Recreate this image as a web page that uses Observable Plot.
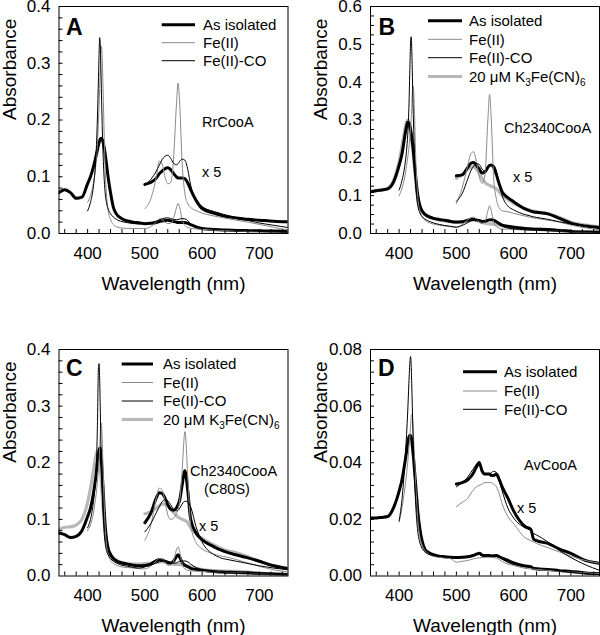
<!DOCTYPE html>
<html><head><meta charset="utf-8">
<script src="https://cdn.jsdelivr.net/npm/d3@7"></script>
<script src="https://cdn.jsdelivr.net/npm/@observablehq/plot@0.6"></script>
<style>
body{margin:0;background:#fff;}
#root{position:relative;width:600px;height:635px;font-family:"Liberation Sans",Arial,sans-serif;background:#fff;overflow:hidden;}
.panel{position:absolute;}
</style></head><body><div id="root"></div>
<script>
// Shared wavelength grid (nm)
const wavelength = [350,360,370,380,390,400,405,410,413,415,417,419,420,421,422,423,424,425,427,429,431,433,436,440,445,450,460,470,480,490,500,510,520,525,530,535,540,545,550,555,558,561,565,570,575,580,590,600,620,630,635,640,660,680,700,725,750];
const xTickLabels = [400,500,600,700];
const expandFrom = 500;   // the "x 5" traces start here
const expandFactor = 5;

// Panel A: RrCooA
const isoA = [.072,.077,.072,.062,.064,.088,.100,.117,.129,.138,.147,.156,.160,.163,.166,.167,.168,.167,.161,.151,.138,.122,.098,.072,.046,.035,.026,.022,.020,.019,.0173,.0180,.0195,.0210,.0220,.0228,.0232,.0225,.0212,.0200,.0196,.0196,.0196,.0193,.0178,.0155,.0115,.0088,.0072,.0066,.0063,.0061,.0055,.0050,.0047,.0043,.0041];
const fe2A = [null,null,null,null,null,.055,.067,.088,.108,.128,.158,.200,.225,.255,.290,.318,.330,.322,.255,.170,.105,.068,.040,.025,.016,.012,.0095,.0090,.0088,.0088,.0088,.0120,.0200,.0255,.0245,.0200,.0175,.0180,.0260,.0450,.0530,.0450,.0250,.0140,.0105,.0092,.0080,.0072,.0062,.0058,.0056,.0054,.0047,.0040,.0032,.0022,.0012];
const coA = [null,null,null,null,null,.040,.055,.082,.112,.145,.200,.275,.315,.345,.335,.300,.255,.210,.140,.095,.068,.054,.043,.035,.029,.025,.021,.019,.0175,.0168,.0170,.0190,.0220,.0240,.0260,.0272,.0276,.0265,.0248,.0242,.0246,.0255,.0262,.0258,.0225,.0170,.0115,.0095,.0078,.0072,.0069,.0066,.0056,.0046,.0037,.0029,.0021];

// Panel B: Ch2340CooA
const isoB = [.110,.113,.115,.118,.135,.180,.210,.258,.283,.294,.292,.283,.275,.265,.255,.243,.230,.215,.183,.150,.120,.097,.075,.060,.051,.046,.040,.037,.035,.032,.0305,.0310,.0350,.0370,.0375,.0360,.0340,.0320,.0325,.0350,.0360,.0362,.0350,.0310,.0260,.0220,.0190,.0168,.0130,.0118,.0114,.0112,.0104,.0080,.0055,.0040,.0032];
const fe2B = [null,null,null,null,null,.100,.120,.150,.180,.200,.225,.260,.280,.300,.330,.370,.390,.385,.310,.200,.130,.088,.060,.045,.035,.030,.025,.022,.020,.018,.0158,.0240,.0360,.0420,.0432,.0380,.0300,.0265,.0310,.0600,.0735,.0600,.0300,.0180,.0135,.0120,.0115,.0107,.0092,.0085,.0082,.0080,.0070,.0060,.0045,.0030,.0020];
const coB = [null,null,null,null,null,.115,.140,.180,.220,.260,.330,.450,.505,.520,.490,.430,.360,.300,.200,.130,.090,.070,.055,.045,.038,.034,.028,.024,.021,.019,.0170,.0210,.0290,.0330,.0355,.0370,.0365,.0340,.0330,.0345,.0355,.0360,.0360,.0330,.0260,.0200,.0145,.0125,.0100,.0092,.0088,.0085,.0075,.0062,.0050,.0038,.0028];
const fcB = [.112,.114,.116,.120,.140,.190,.230,.275,.295,.300,.295,.280,.270,.260,.248,.235,.220,.205,.170,.140,.110,.090,.070,.058,.050,.045,.040,.036,.033,.031,.0292,.0310,.0340,.0350,.0352,.0340,.0320,.0290,.0270,.0258,.0255,.0250,.0245,.0235,.0220,.0200,.0180,.0160,.0132,.0122,.0118,.0115,.0105,.0085,.0060,.0045,.0036];

// Panel C: Ch2340CooA (C80S)
const isoC = [.076,.073,.068,.070,.080,.105,.120,.145,.165,.180,.200,.215,.222,.226,.225,.218,.205,.190,.155,.115,.085,.065,.048,.038,.031,.027,.023,.021,.019,.018,.0185,.0210,.0270,.0290,.0285,.0260,.0235,.0230,.0260,.0340,.0375,.0330,.0240,.0190,.0165,.0135,.0115,.0100,.0078,.0072,.0070,.0068,.0064,.0056,.0045,.0034,.0026];
const fe2C = [null,null,null,null,null,.080,.090,.110,.130,.145,.165,.190,.205,.225,.250,.268,.270,.255,.190,.125,.080,.055,.038,.028,.022,.019,.016,.015,.014,.013,.0125,.0170,.0270,.0310,.0305,.0250,.0190,.0190,.0260,.0460,.0515,.0420,.0220,.0125,.0100,.0090,.0085,.0080,.0070,.0065,.0063,.0062,.0055,.0045,.0035,.0025,.0018];
const coC = [null,null,null,null,null,.085,.100,.130,.160,.190,.260,.370,.375,.350,.300,.245,.200,.165,.110,.075,.055,.045,.037,.031,.026,.023,.019,.017,.015,.014,.0160,.0190,.0230,.0250,.0265,.0270,.0262,.0240,.0225,.0230,.0245,.0260,.0265,.0265,.0250,.0210,.0150,.0110,.0075,.0065,.0062,.0058,.0050,.0042,.0035,.0028,.0021];
const fcC = [.082,.086,.087,.090,.100,.130,.155,.185,.205,.215,.220,.215,.210,.200,.190,.180,.165,.150,.120,.095,.075,.060,.047,.038,.032,.028,.024,.022,.021,.021,.0220,.0225,.0240,.0250,.0255,.0250,.0235,.0220,.0210,.0205,.0205,.0202,.0198,.0185,.0170,.0155,.0130,.0115,.0095,.0090,.0088,.0086,.0080,.0068,.0050,.0035,.0025];
// Panel C "x 5" traces as drawn (values on the left axis, 500-750 nm of the grid)
const isoC5 = [.094,.110,.138,.147,.146,.138,.126,.118,.116,.120,.126,.135,.160,.186,.150,.100,.075,.064,.052,.047,.045,.043,.037,.032,.026,.018,.013];
const fe2C5 = [.063,.088,.138,.155,.152,.132,.108,.100,.102,.110,.118,.135,.185,.255,.175,.090,.058,.048,.039,.036,.035,.034,.029,.023,.017,.011,.007];
const coC5 = [.078,.092,.112,.122,.131,.135,.133,.126,.118,.115,.116,.120,.127,.132,.131,.122,.085,.060,.038,.033,.031,.030,.026,.022,.018,.014,.011];
const fcC5 = [.110,.113,.120,.124,.127,.127,.124,.118,.112,.107,.104,.102,.100,.098,.094,.085,.074,.066,.055,.050,.048,.046,.041,.034,.026,.018,.013];

// Panel D: AvCooA
const isoD = [.0205,.0205,.0207,.0210,.0240,.0300,.0340,.0400,.0440,.0470,.0490,.0497,.0495,.0490,.0480,.0460,.0440,.0420,.0370,.0320,.0270,.0220,.0170,.0125,.0095,.0085,.0075,.0070,.0068,.0066,.0065,.0066,.0068,.0070,.0073,.0077,.0080,.0074,.0072,.0072,.0072,.0071,.0071,.0072,.0068,.0063,.0055,.0046,.0035,.0033,.0026,.0025,.0023,.0019,.0016,.0011,.0009];
const fe2D = [null,null,null,null,null,.0190,.0240,.0310,.0360,.0400,.0450,.0500,.0530,.0560,.0570,.0565,.0540,.0500,.0410,.0320,.0250,.0190,.0140,.0110,.0090,.0080,.0070,.0066,.0063,.0061,.0049,.0052,.0055,.0058,.0061,.0063,.0064,.0065,.0066,.0066,.0066,.0066,.0065,.0063,.0058,.0051,.0042,.0037,.0027,.0025,.0024,.0023,.0020,.0017,.0014,.0011,.0009];
const coD = [null,null,null,null,null,.0195,.0270,.0400,.0500,.0580,.0680,.0760,.0775,.0750,.0680,.0600,.0520,.0450,.0340,.0250,.0190,.0150,.0120,.0098,.0085,.0078,.0072,.0069,.0067,.0066,.0063,.0066,.0070,.0073,.0076,.0079,.0081,.0074,.0072,.0072,.0072,.0073,.0074,.0073,.0067,.0060,.0048,.0041,.0034,.0032,.0030,.0029,.0024,.0018,.0013,.0008,.0004];

const seriesNames = ["As isolated","Fe(II)","Fe(II)-CO","20 \u03bcM K3Fe(CN)6"];
const styles = {
  "As isolated": {stroke:"#000", width:3, order:1},
  "Fe(II)": {stroke:"#8a8a8a", width:1, order:2},
  "Fe(II)-CO": {stroke:"#000", width:1, order:3},
  "20 \u03bcM K3Fe(CN)6": {stroke:"#b8b8b8", width:3.2, order:0}
};

const panels = [
  {letter:"A", left:0, top:0, w:300, h:310, mL:58.5, mR:12.5, mT:6, mB:77,
   yMax:0.4, yLabels:[0,0.1,0.2,0.3,0.4], yFmt:d3.format(".1f"), yStep:0.02,
   values:[isoA, fe2A, coA], letterPos:[66,35],
   legend:{x1:161.7,x2:195,tx:203,rows:[24.7,42.7,60.7]},
   notes:[["RrCooA",202,126.7],["x 5",202,177]]},
  {letter:"B", left:300, top:0, w:300, h:310, mL:70, mR:1, mT:6, mB:77,
   yMax:0.6, yLabels:[0,0.1,0.2,0.3,0.4,0.5,0.6], yFmt:d3.format(".1f"), yStep:0.025,
   values:[isoB, fe2B, coB, fcB], letterPos:[78.5,35],
   legend:{x1:128,x2:162,tx:169,rows:[20.7,39.3,57.7,76.5]},
   notes:[["Ch2340CooA",204,133],["x 5",213,182]]},
  {letter:"C", left:0, top:320, w:300, h:315, mL:58.5, mR:12.5, mT:29, mB:59.5,
   yMax:0.4, yLabels:[0,0.1,0.2,0.3,0.4], yFmt:d3.format(".1f"), yStep:0.02,
   values:[isoC, fe2C, coC, fcC], expanded:[isoC5, fe2C5, coC5, fcC5], letterPos:[66,56],
   legend:{x1:121.7,x2:153,tx:163,rows:[44,62.5,81,99.5]},
   notes:[["Ch2340CooA",190,155.5],["(C80S)",204,174],["x 5",199,211]]},
  {letter:"D", left:300, top:320, w:300, h:315, mL:70, mR:1, mT:29, mB:59.5,
   yMax:0.08, yLabels:[0,0.02,0.04,0.06,0.08], yFmt:d3.format(".2f"), yStep:0.004,
   values:[isoD, fe2D, coD], letterPos:[78,56],
   legend:{x1:163,x2:197,tx:204,rows:[51.7,71,89.3]},
   notes:[["AvCooA",224,149.5],["x 5",217,193]]}
];

const FONT = '"Liberation Sans", Arial, Helvetica, sans-serif';
const root = document.getElementById("root");
const expWl = wavelength.filter(w => w >= expandFrom);

for (const p of panels) {
  const innerW = p.w - p.mL - p.mR;
  const innerH = p.h - p.mT - p.mB;
  const series = p.values.map((vals, k) => {
    const name = seriesNames[k];
    const rows = [];
    wavelength.forEach((w, i) => { if (vals[i] != null) rows.push({wl: w, a: vals[i]}); });
    let exp;
    if (p.expanded) exp = expWl.map((w, i) => ({wl: w, a: p.expanded[k][i]}));
    else exp = rows.filter(d => d.wl >= expandFrom).map(d => ({wl: d.wl, a: d.a * expandFactor}));
    return {name, rows, exp, style: styles[name]};
  });
  const marks = [];
  const drawOrder = series.slice().sort((a, b) => a.style.order - b.style.order);
  for (const s of drawOrder) {
    const st = {stroke: s.style.stroke, strokeWidth: s.style.width, curve: "monotone-x", strokeLinejoin: "round", strokeLinecap: "round", clip: true};
    marks.push(Plot.line(s.rows, {x: "wl", y: "a", ...st}));
    marks.push(Plot.line(s.exp, {x: "wl", y: "a", ...st}));
  }
  const xMinor = d3.range(360, 750, 20);
  const yMinor = d3.range(1, Math.round(p.yMax / p.yStep)).map(i => i * p.yStep);
  marks.push(
    Plot.tickX(xMinor, {x: d => d, stroke: "#000", strokeWidth: 1, insetTop: innerH - 4}),
    Plot.tickY(yMinor, {y: d => d, stroke: "#000", strokeWidth: 1, insetRight: innerW - 4}),
    Plot.frame({stroke: "#000", strokeWidth: 1}),
    Plot.axisX(xTickLabels, {tickSize: 0, tickPadding: 13, fontSize: 17, label: null}),
    Plot.axisY(p.yLabels, {tickSize: 0, tickPadding: 8.5, fontSize: 17, tickFormat: p.yFmt, label: null}),
    Plot.text(["Wavelength (nm)"], {text: d => d, frameAnchor: "bottom", dy: 50, fontSize: 19, lineAnchor: "middle"}),
    Plot.text(["Absorbance"], {text: d => d, frameAnchor: "left", rotate: -90, dx: -49.5, fontSize: 19, lineAnchor: "middle"})
  );
  const svg = Plot.plot({
    width: p.w, height: p.h,
    marginLeft: p.mL, marginRight: p.mR, marginTop: p.mT, marginBottom: p.mB,
    x: {domain: [350, 750], axis: null},
    y: {domain: [0, p.yMax], axis: null},
    style: {fontFamily: FONT, fontSize: "17px", color: "#000", background: "transparent", overflow: "visible"},
    marks
  });
  const g = d3.select(svg).append("g").attr("font-family", FONT).attr("fill", "#000").attr("text-anchor", "start");
  // panel letter
  g.append("text").attr("x", p.letterPos[0]).attr("y", p.letterPos[1])
    .attr("font-size", 23).attr("font-weight", "bold").text(p.letter);
  // legend
  series.forEach((s, k) => {
    const y = p.legend.rows[k];
    g.append("line").attr("x1", p.legend.x1).attr("x2", p.legend.x2).attr("y1", y).attr("y2", y)
      .attr("stroke", s.style.stroke).attr("stroke-width", s.style.width);
    const t = g.append("text").attr("x", p.legend.tx).attr("y", y + 5.3).attr("font-size", 15);
    if (s.name.startsWith("20")) {
      t.append("tspan").text("20 \u03bcM K");
      t.append("tspan").attr("font-size", 10).attr("dy", 4).text("3");
      t.append("tspan").attr("dy", -4).text("Fe(CN)");
      t.append("tspan").attr("font-size", 10).attr("dy", 4).text("6");
    } else {
      t.text(s.name);
    }
  });
  for (const [txt, x, y] of p.notes) {
    g.append("text").attr("x", x).attr("y", y).attr("font-size", 14.5).text(txt);
  }
  const div = document.createElement("div");
  div.className = "panel";
  div.style.left = p.left + "px";
  div.style.top = p.top + "px";
  div.appendChild(svg);
  root.appendChild(div);
}
</script>
</body></html>
